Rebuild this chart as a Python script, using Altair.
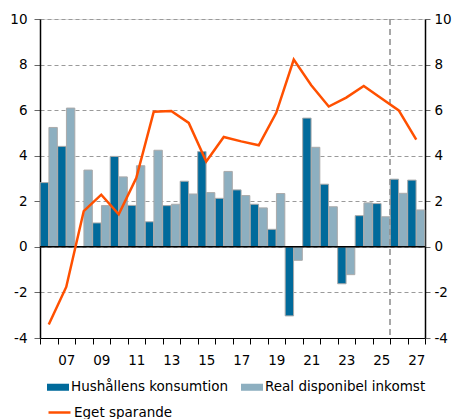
import altair as alt
import pandas as pd

years = ["06", "07", "08", "09", "10", "11", "12", "13", "14", "15", "16",
         "17", "18", "19", "20", "21", "22", "23", "24", "25", "26", "27"]
konsumtion = [2.82, 4.41, 0.0, 1.05, 3.97, 1.82, 1.10, 1.81, 2.88, 4.18, 2.13,
              2.50, 1.87, 0.77, -3.03, 5.65, 2.75, -1.62, 1.37, 1.90, 2.97, 2.93]
inkomst = [5.24, 6.09, 3.37, 1.81, 3.07, 3.56, 4.24, 1.87, 2.32, 2.38, 3.31,
           2.25, 1.71, 2.34, -0.59, 4.37, 1.76, -1.22, 1.93, 1.32, 2.35, 1.62]
sparande = [-3.41, -1.76, 1.57, 2.29, 1.43, 3.02, 5.93, 5.96, 5.44, 3.75, 4.82,
            4.63, 4.46, 5.88, 8.22, 7.09, 6.16, 6.55, 7.06, 6.52, 5.99, 4.71]
bar_series = ["Hushållens konsumtion", "Real disponibel inkomst"]
line_series = ["Eget sparande"]
y_ticks = [-4, -2, 0, 2, 4, 6, 8, 10]
forecast_start = ["26"]

DARK = "#006A9B"
LIGHT = "#8DAFC0"
ORANGE = "#FF5000"
FONT = "DejaVu Sans"
FS = 13.5

bars_df = pd.DataFrame({
    "lab": years * 2,
    "serie": [bar_series[0]] * len(years) + [bar_series[1]] * len(years),
    "v": konsumtion + inkomst,
})
line_df = pd.DataFrame({"lab": years, "name": line_series * len(years), "v": sparande})
rule_df = pd.DataFrame({"lab": forecast_start})
zero_df = pd.DataFrame({"z": [0]})

xaxis = alt.Axis(title=None, labelAngle=0, tickBand="extent",
                 labelExpr="parseInt(datum.value) % 2 == 1 ? datum.value : ''",
                 tickSize=6, tickColor="black", domainColor="black",
                 labelPadding=9, labelFontSize=FS, labelColor="black",
                 labelFont=FONT, grid=False)
xscale = alt.Scale(domain=years, paddingInner=0, paddingOuter=0)


def X(**kw):
    return alt.X("lab:O", scale=xscale, axis=xaxis, sort=years, **kw)


yscale = alt.Scale(domain=[-4, 10], nice=False, zero=False)


def yaxis(orient, grid, tick, pad):
    return alt.Axis(title=None, orient=orient, values=y_ticks, grid=grid,
                    labelExpr="toString(datum.value)",
                    gridDash=[4, 3], gridColor="#9a9a9a", gridWidth=1,
                    tickSize=tick, tickColor="#666", domainColor="black",
                    domainWidth=1.5, labelPadding=pad, labelFontSize=FS,
                    labelColor="black", labelFont=FONT)


bar_path = "M-1,-0.32H1V0.32H-1Z"

bars = alt.Chart(bars_df).mark_bar(stroke="#aaaaaa", strokeWidth=1).encode(
    x=X(),
    xOffset=alt.XOffset("serie:N", sort=bar_series,
                        scale=alt.Scale(paddingInner=0.04, paddingOuter=0.02)),
    y=alt.Y("v:Q", scale=yscale, axis=yaxis("left", True, 6, 7)),
    color=alt.Color("serie:N", scale=alt.Scale(domain=bar_series, range=[DARK, LIGHT]),
                    legend=alt.Legend(title=None, orient="none", legendX=7, legendY=357,
                                      direction="horizontal", symbolType=bar_path,
                                      symbolSize=484, symbolStrokeWidth=0,
                                      labelFontSize=FS, labelFont=FONT,
                                      labelColor="black", labelOffset=2,
                                      labelLimit=400, columnPadding=12, padding=0)),
)

zero = alt.Chart(zero_df).mark_rule(color="black", strokeWidth=1.5).encode(
    y=alt.Y("z:Q", scale=yscale)
)

vrule = alt.Chart(rule_df).mark_rule(color="#8a8a8a", strokeWidth=1.5,
                                     strokeDash=[6, 4]).encode(
    x=X(bandPosition=0)
)

left_group = alt.layer(bars, zero, vrule)

line = alt.Chart(line_df).mark_line(strokeWidth=2.5).encode(
    x=X(),
    y=alt.Y("v:Q", scale=yscale, axis=yaxis("right", False, 5, 4)),
    stroke=alt.Stroke("name:N", scale=alt.Scale(domain=line_series, range=[ORANGE]),
                      legend=alt.Legend(title=None, orient="none", legendX=7, legendY=381,
                                        symbolType="stroke", symbolSize=484,
                                        symbolStrokeWidth=2.5, labelFontSize=FS,
                                        labelFont=FONT, labelColor="black",
                                        labelOffset=2, labelLimit=400, padding=0)),
)

chart = alt.layer(left_group, line).resolve_scale(
    y="independent", color="independent", stroke="independent"
).properties(
    width=385, height=319,
    autosize=alt.AutoSizeParams(type="none"),
    padding={"left": 32, "top": 11, "right": 27, "bottom": 90},
).configure_view(stroke="black", strokeWidth=1).configure(font=FONT)

chart.save("out.html", embed_options={"renderer": "svg", "actions": False})
